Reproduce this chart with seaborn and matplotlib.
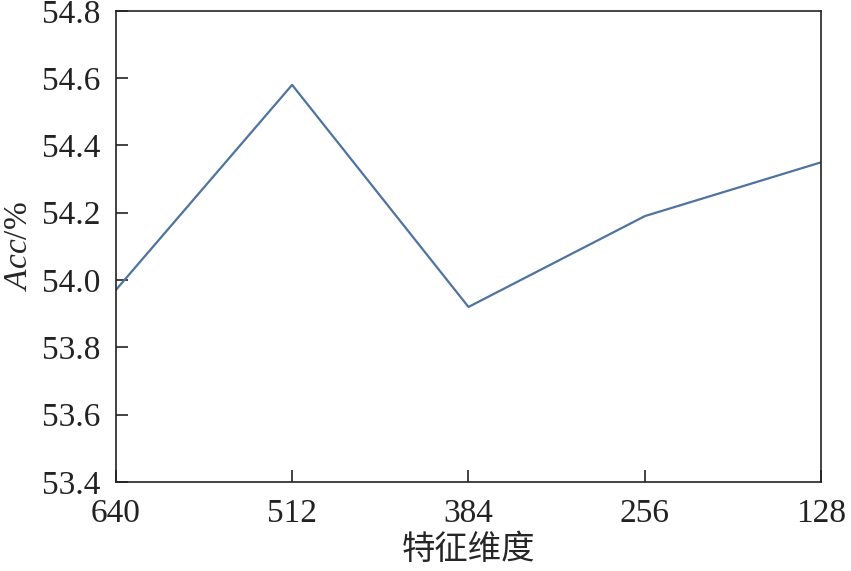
import matplotlib
matplotlib.use('Agg')
import matplotlib.pyplot as plt
import seaborn as sns
import pandas as pd

# 特征维度 vs Acc
dims = [640, 512, 384, 256, 128]
acc = [53.97, 54.58, 53.92, 54.19, 54.35]
yticks = [53.4, 53.6, 53.8, 54.0, 54.2, 54.4, 54.6, 54.8]

df = pd.DataFrame({'dim': dims, 'acc': acc})

sns.set_style('ticks')
plt.rcParams['font.family'] = ['Liberation Serif', 'Noto Sans CJK SC']
plt.rcParams['mathtext.fontset'] = 'custom'
plt.rcParams['mathtext.it'] = 'Liberation Serif:italic'
plt.rcParams['mathtext.rm'] = 'Liberation Serif'

fig, ax = plt.subplots(figsize=(8.51, 5.71), dpi=100)
fig.subplots_adjust(left=0.136, right=0.965, top=0.981, bottom=0.156)

sns.lineplot(data=df, x='dim', y='acc', ax=ax, color='#4f73a0', linewidth=1.6)

ax.set_xlim(640, 128)
ax.set_ylim(53.4, 54.8)
ax.set_xticks(dims)
ax.set_xticklabels([str(d) for d in dims])
ax.set_yticks(yticks)
ax.set_yticklabels([f'{v:.1f}' for v in yticks])
ax.tick_params(axis='both', direction='in', length=8.5, width=1.2, labelsize=24,
               colors='#222222')
ax.tick_params(axis='x', pad=12)
ax.tick_params(axis='y', pad=11)
for s in ax.spines.values():
    s.set_linewidth(1.2)
    s.set_color('#222222')

ax.set_xlabel('特征维度', fontsize=24, family=['Noto Sans CJK SC'], labelpad=2)
ax.set_ylabel(r'$Acc$/%', fontsize=24, labelpad=6)

fig.savefig('out.png', dpi=100)
